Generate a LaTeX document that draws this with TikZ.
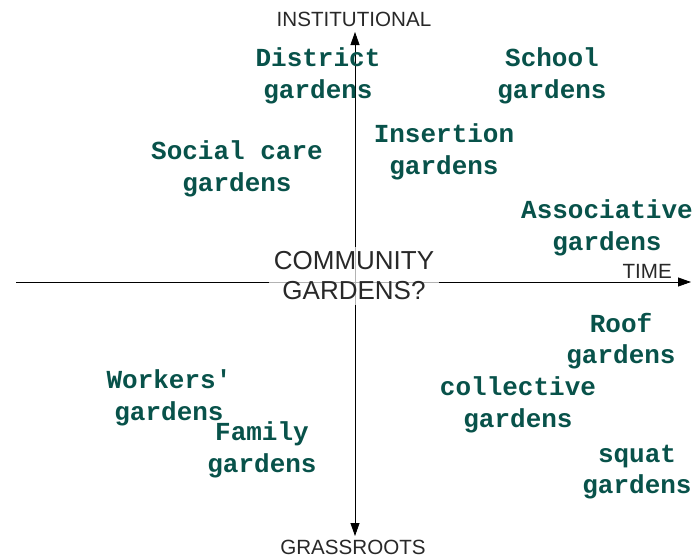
\documentclass[tikz,border=0pt]{standalone}
\usepackage{fontspec}
\setmainfont{Liberation Sans}
\newfontfamily\gardenfont{Liberation Mono}
\usepackage{tikz}
\usetikzlibrary{positioning,arrows.meta}
\definecolor{gardenteal}{RGB}{8,82,74}
\definecolor{axisgray}{RGB}{40,40,40}

\begin{document}
\begin{tikzpicture}[x=1pt, y=-1pt,
                    axis/.style={-{Triangle[length=13pt, width=9pt]}, thick, black},
                    pole/.style={text=axisgray, font=\fontsize{20.6}{24}\selectfont, inner sep=1pt},
                    garden/.style={text=gardenteal, align=center, inner sep=1pt,
                    font=\gardenfont\bfseries\fontsize{26}{31.5}\selectfont},
                    centre/.style={fill=white, fill opacity=0.7, text opacity=1,
                    text=axisgray, align=center, inner sep=5pt,
                    font=\fontsize{26}{30}\selectfont},
                ]
                \useasboundingbox (0,0) rectangle (696,555);
                \coordinate (west) at (16,282);
                \coordinate (east) at (691,282);
                \coordinate (north) at (355,32);
                \coordinate (south) at (355,536);
                \coordinate (origin) at (355,282);

                \draw[axis] (west) -- (east);
                \draw[axis] (origin) -- (north);
                \draw[axis] (origin) -- (south);

                \node[centre] (question) at (354,276) {COMMUNITY\\GARDENS?};
                \node[pole] (institutional) at (354,19) {INSTITUTIONAL};
                \node[pole] (grassroots) at (353,547) {GRASSROOTS};
                \node[pole, anchor=south east] (time) at (673,280) {TIME};

                % upper half
                \node[garden] (district) at (318,76) {District\\gardens};
                \node[garden] (school) at (552,76) {School\\gardens};
                \node[garden] (insertion) at (444,152) {Insertion\\gardens};
                \node[garden] (socialcare) at (237,169) {Social care\\gardens};
                \node[garden] (associative) at (607,228) {Associative\\gardens};
                % lower half
                \node[garden] (roof) at (621,341) {Roof\\gardens};
                \node[garden] (workers) at (169,398) {Workers'\\gardens};
                \node[garden] (collective) at (518,405) {collective\\gardens};
                \node[garden] (family) at (262,450) {Family\\gardens};
                \node[garden] (squat) at (637,472) {squat\\gardens};
            \end{tikzpicture}
\end{document}
